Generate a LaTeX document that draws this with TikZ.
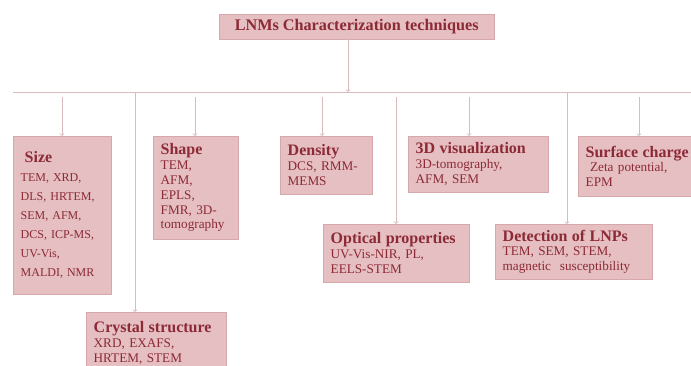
\documentclass[tikz,border=0pt]{standalone}
\usepackage{fontspec}
\setmainfont{Liberation Serif}
\usetikzlibrary{positioning}

\definecolor{boxfill}{HTML}{E5BFC1}
\definecolor{boxline}{HTML}{D6A8AC}
\definecolor{wirecol}{HTML}{D9BBBD}
\definecolor{ink}{HTML}{8C2A36}

\tikzset{
  catbox/.style={draw=boxline, fill=boxfill, anchor=north west, align=left,
    inner xsep=7.5pt, inner ysep=5pt, text=ink, font=\fontsize{13.2}{14.8}\selectfont},
  link/.style={draw=wirecol, line width=0.8pt},
}
\newcommand{\cathead}[1]{{\fontsize{16}{17}\selectfont\bfseries #1}}

\begin{document}
\begin{tikzpicture}[x=1pt,y=-1pt]
  \useasboundingbox (0,0) rectangle (691,365);

  % top box
  \node[draw=boxline, fill=boxfill, anchor=north west, minimum width=275pt,
    minimum height=25pt, text=ink, font=\fontsize{16.2}{18}\selectfont\bfseries]
    (root) at (219,14) {LNMs Characterization techniques};

  % first row
  \node[catbox, minimum width=98pt, minimum height=158pt, text width=83pt,
    font=\fontsize{12}{19}\selectfont] (size) at (13,136)
    {\hspace*{4pt}\cathead{Size}\\ TEM, XRD,\\ DLS, HRTEM,\\ SEM, AFM,\\ DCS, ICP-MS,\\ UV-Vis,\\ MALDI, NMR};
  \node[catbox, minimum width=85pt, minimum height=103pt, text width=70pt] (shape) at (153,136)
    {\cathead{Shape}\\ TEM,\\ AFM,\\ EPLS,\\ FMR, 3D-\\ tomography};
  \node[catbox, minimum width=92pt, minimum height=58pt, text width=77pt] (density) at (280,136)
    {\cathead{Density}\\ DCS, RMM-\\ MEMS};
  \node[catbox, minimum width=140pt, minimum height=56pt, text width=125pt] (vis3d) at (408,136)
    {\cathead{3D visualization}\\ 3D-tomography,\\ AFM, SEM};
  \node[catbox, minimum width=120pt, minimum height=60pt, text width=105pt] (charge) at (578,136)
    {\cathead{Surface charge}\\ \ Zeta potential,\\ EPM};

  % second row
  \node[catbox, minimum width=146pt, minimum height=58pt, text width=131pt] (optical) at (323,224)
    {\cathead{Optical properties}\\ UV-Vis-NIR, PL,\\ EELS-STEM};
  \node[catbox, minimum width=157pt, minimum height=55pt, text width=142pt] (detect) at (495,224)
    {\cathead{Detection of LNPs}\\ TEM, SEM, STEM,\\ magnetic\ \ susceptibility};
  \node[catbox, minimum width=140pt, minimum height=62pt, text width=125pt] (crystal) at (86,312)
    {\cathead{Crystal structure}\\ XRD, EXAFS,\\ HRTEM, STEM};

  % bus line and trunk
  \coordinate (bus w) at (13,92);
  \coordinate (bus e) at (691,92);
  \coordinate (trunk) at (348,92);
  \draw[link] (bus w) -- (bus e);
  \draw[link,->] (root.south -| trunk) -- (trunk);

  % drops to the boxes
  \foreach \cat/\x/\y in {size/62/97, shape/195/97, density/322/97, vis3d/469/97,
      charge/639/97, crystal/135/92, optical/396/97, detect/567/92}{
    \coordinate (tap-\cat) at (\x,\y);
    \draw[link,->] (tap-\cat) -- (tap-\cat |- \cat.north);
  }
\end{tikzpicture}
\end{document}
